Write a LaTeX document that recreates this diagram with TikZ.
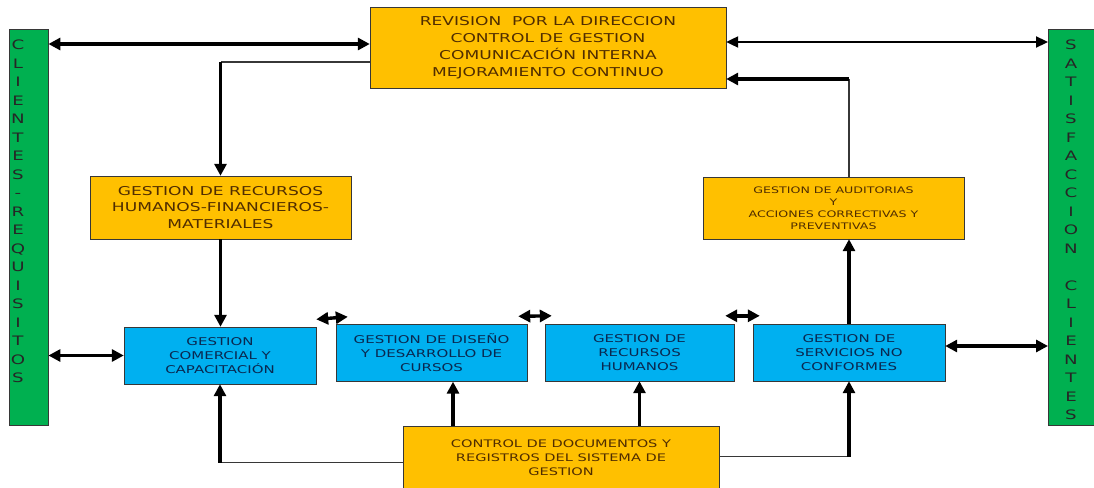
\documentclass[tikz,border=0pt]{standalone}
\usepackage{fontspec}
\setmainfont{DejaVu Sans}[FakeStretch=1.4]
\usetikzlibrary{arrows.meta,positioning}

\definecolor{boxorange}{RGB}{255,192,0}
\definecolor{boxblue}{RGB}{0,176,240}
\definecolor{bargreen}{RGB}{0,176,80}
\definecolor{txtbrown}{RGB}{80,45,0}
\definecolor{txtnavy}{RGB}{10,40,80}
\definecolor{edgegray}{RGB}{55,55,55}

\tikzset{
  orangebox/.style={draw=edgegray, fill=boxorange, text=txtbrown, align=center, inner sep=0pt},
  bluebox/.style={draw=edgegray, fill=boxblue, text=txtnavy, align=center, inner sep=0pt,
    minimum width=191pt, minimum height=57pt, font=\fontsize{10.7}{14}\selectfont},
  greenbar/.style={draw=edgegray, fill=bargreen, inner sep=0pt, anchor=north west, minimum height=396pt},
  bartext/.style={align=center, inner sep=0pt, text=black!85, font=\fontsize{13}{18.5}\selectfont},
  thickline/.style={line width=3.4pt, >={Triangle[length=12pt,width=12pt]}},
  midline/.style={line width=2.2pt, >={Triangle[length=12pt,width=11pt]}},
  thinline/.style={line width=1.3pt, draw=edgegray}
}

\begin{document}
\begin{tikzpicture}[x=1pt,y=-1pt]
\useasboundingbox (0,0) rectangle (1094,487);

\node (clientes) [greenbar, minimum width=39pt] at (9,29) {};
\node (satisfaccion) [greenbar, minimum width=50pt] at (1048,29) {};
\node (clientestxt) [bartext] at (18,211.5)
{C\\L\\I\\E\\N\\T\\E\\S\\-\\R\\E\\Q\\U\\I\\S\\I\\T\\O\\S};
\node (satisfacciontxt) [bartext] at (1071,230)
{S\\A\\T\\I\\S\\F\\A\\C\\C\\I\\O\\N\\[18.5pt]C\\L\\I\\E\\N\\T\\E\\S};

\node (revision) [orangebox, minimum width=356pt, minimum height=81pt,
  font=\fontsize{12.2}{17}\selectfont] at (548,47.5)
{REVISION\ \ POR LA DIRECCION\\CONTROL DE GESTION\\COMUNICACIÓN INTERNA\\MEJORAMIENTO CONTINUO};
\node (recursos) [orangebox, minimum width=261pt, minimum height=63pt,
  font=\fontsize{12.2}{16.7}\selectfont] at (220.5,207.5)
{GESTION DE RECURSOS\\HUMANOS-FINANCIEROS-\\MATERIALES};
\node (auditorias) [orangebox, minimum width=261pt, minimum height=62pt,
  font=\fontsize{9}{12}\selectfont] at (833.5,208)
{GESTION DE AUDITORIAS\\Y\\ACCIONES CORRECTIVAS Y\\PREVENTIVAS};

\node (comercial) [bluebox, minimum width=192pt] at (220,355.5)
{GESTION\\COMERCIAL Y\\CAPACITACIÓN};
\node (diseno) [bluebox] at (431.5,353)
{GESTION DE DISEÑO\\Y DESARROLLO DE\\CURSOS};
\node (rrhh) [bluebox, minimum width=189pt] at (639.5,352.5)
{GESTION DE\\RECURSOS\\HUMANOS};
\node (servicios) [bluebox, minimum width=192pt] at (849,352.5)
{GESTION DE\\SERVICIOS NO\\CONFORMES};

\node (control) [orangebox, anchor=north, minimum width=316pt, minimum height=64pt,
  font=\fontsize{10.4}{14}\selectfont] at (561,426)
{CONTROL DE DOCUMENTOS Y\\REGISTROS DEL SISTEMA DE\\GESTION};

\coordinate (revL) at ([yshift=3.5pt]revision.west);
\coordinate (revLlow) at ([yshift=-14.5pt]revision.west);
\coordinate (revR) at ([yshift=5.5pt]revision.east);
\coordinate (revRlow) at ([yshift=-31.5pt]revision.east);
\coordinate (servR) at ([yshift=6.5pt]servicios.east);
\coordinate (ctrlL) at ([yshift=-4.5pt]control.west);
\coordinate (ctrlR) at ([yshift=1.5pt]control.east);
\coordinate (disenoin) at ([xshift=21.5pt]diseno.south);
\coordinate (gapA1) at ([yshift=7.5pt]comercial.north east);
\coordinate (gapA2) at ([xshift=12pt,yshift=7.5pt]diseno.north west);
\coordinate (gapB1) at ([xshift=-9pt,yshift=8pt]diseno.north east);
\coordinate (gapB2) at ([xshift=7pt,yshift=8pt]rrhh.north west);
\coordinate (gapC1) at ([xshift=-9pt,yshift=8pt]rrhh.north east);
\coordinate (gapC2) at ([xshift=7pt,yshift=8pt]servicios.north west);

\draw[thickline,<->] (revL -| clientes.east) -- (revL);
\draw[midline,<->] (revR) -- (revR -| satisfaccion.west);
\draw[thinline] (revLlow) -- (revLlow -| recursos.north);
\draw[thickline,->] (revLlow -| recursos.north) -- (recursos.north);
\draw[thickline,->] (recursos.south) -- (recursos.south |- comercial.north);
\draw[thickline,<->] (comercial.west -| clientes.east) -- (comercial.west);
\draw[thickline,<->] (servR) -- (servR -| satisfaccion.west);
\draw[thickline,->] (servicios.north) -- (servicios.north |- auditorias.south);
\draw[thinline] (servicios.north |- auditorias.north) -- (servicios.north |- revRlow);
\draw[thickline,->] (servicios.north |- revRlow) -- (revRlow);
\draw[thinline] (ctrlL) -- (ctrlL -| comercial.south);
\draw[thickline,->] (ctrlL -| comercial.south) -- (comercial.south);
\draw[thinline] (ctrlR) -- (ctrlR -| servicios.south);
\draw[thickline,->] (ctrlR -| servicios.south) -- (servicios.south);
\draw[thickline,->] (disenoin |- control.north) -- (disenoin);
\draw[thickline,->] (rrhh.south |- control.north) -- (rrhh.south);
\draw[thickline,<->] (gapA1) -- (gapA2);
\draw[thickline,<->] (gapB1) -- (gapB2);
\draw[thickline,<->] (gapC1) -- (gapC2);
\end{tikzpicture}
\end{document}
